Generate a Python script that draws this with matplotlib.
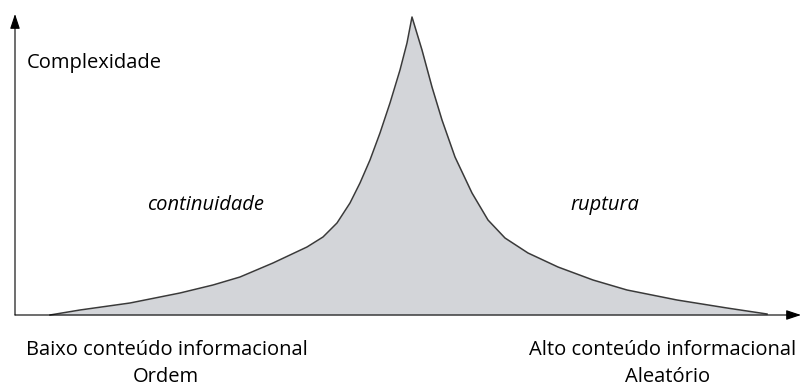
import numpy as np
import matplotlib.pyplot as plt

# curve (x: informational content, y: complexity)
x_curve = [35, 65, 115, 165, 198, 225, 258, 292, 308, 322, 335, 345, 355, 365,
           375, 385, 392, 397,
           407, 417, 427, 440, 457, 473, 490, 513, 543, 578, 612, 662, 712, 752]
y_curve = [0, 5, 12, 22, 30, 38, 52, 68, 78, 92, 112, 132, 155, 182,
           212, 245, 272, 298,
           265, 228, 195, 158, 122, 95, 77, 62, 48, 35, 25, 15, 7, 1]

y_label = "Complexidade"
left_labels = ["Baixo conteúdo informacional", "Ordem"]
right_labels = ["Alto conteúdo informacional", "Aleatório"]
region_labels = ["continuidade", "ruptura"]

plt.rcParams['font.family'] = ['Open Sans', 'DejaVu Sans']

fig = plt.figure(figsize=(8.01, 3.86), dpi=100)
ax = fig.add_axes([0, 0, 1, 1])
ax.set_xlim(-15, 786)
ax.set_ylim(-71, 315)
ax.axis('off')

ax.fill_between(x_curve, y_curve, 0, color='#d3d5d9', lw=0)
ax.plot(x_curve, y_curve, color='#3a3a3a', lw=1.1, solid_joinstyle='round')

# axes with arrow heads
arrow = dict(arrowstyle='-|>,head_length=0.9,head_width=0.3',
             color='black', lw=0.8, shrinkA=0, shrinkB=0)
ax.annotate('', xy=(0, 301), xytext=(0, 0), arrowprops=arrow)
ax.annotate('', xy=(786, 0), xytext=(0, 0), arrowprops=arrow)

fs = 14.5
ax.text(12, 252, y_label, fontsize=fs, ha='left', va='center')
ax.text(190, 110, region_labels[0], fontsize=fs, style='italic', ha='center', va='center')
ax.text(590, 110, region_labels[1], fontsize=fs, style='italic', ha='center', va='center')

ax.text(152, -35, left_labels[0], fontsize=fs, ha='center', va='center')
ax.text(151, -62, left_labels[1], fontsize=fs, ha='center', va='center')
ax.text(648, -35, right_labels[0], fontsize=fs, ha='center', va='center')
ax.text(653, -62, right_labels[1], fontsize=fs, ha='center', va='center')

plt.savefig('out.png', dpi=100)
